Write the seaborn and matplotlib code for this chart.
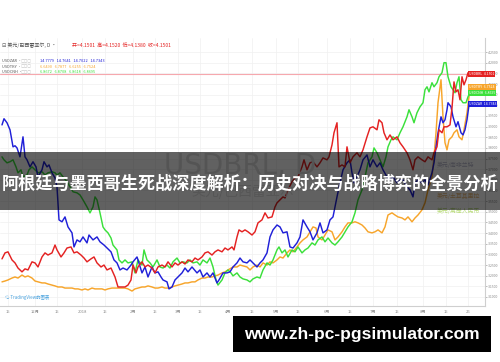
import matplotlib
matplotlib.use("Agg")
import numpy as np
import pandas as pd
import matplotlib.pyplot as plt
import seaborn as sns
from matplotlib.patches import Rectangle

# ---------------- data (session index, price in USDBRL scale) ----------------
usdbrl = [(2,3.279),(5,3.307),(8,3.312),(12,3.274),(15,3.260),(18,3.236),(22,3.218),(25,3.232),(28,3.227),(32,3.265),
          (35,3.260),(38,3.241),(42,3.288),(45,3.307),(48,3.297),(52,3.307),(55,3.344),(57,3.321),(61,3.288),(64,3.307),
          (67,3.330),(71,3.335),(74,3.307),(77,3.312),(81,3.297),(84,3.283),(87,3.265),(91,3.279),(94,3.288),(97,3.260),
          (101,3.241),(104,3.250),(107,3.227),(111,3.236),(115,3.194),(118,3.147),(122,3.147),(125,3.147),(128,3.156),(131,3.180),
          (133,3.250),(136,3.213),(138,3.241),(142,3.265),(145,3.241),(148,3.250),(152,3.236),(155,3.213),(158,3.241),(162,3.250),
          (165,3.241),(168,3.265),(172,3.241),(175,3.260),(178,3.250),(182,3.265),(185,3.255),(188,3.274),(192,3.265),(195,3.283),
          (198,3.274),(202,3.288),(205,3.307),(208,3.312),(212,3.297),(215,3.312),(218,3.321),(222,3.312),(225,3.330),(228,3.321),
          (232,3.335),(234,3.321),(237,3.382),(239,3.415),(242,3.406),(245,3.415),(248,3.406),(252,3.391),(255,3.406),(258,3.448),
          (262,3.462),(265,3.495),(268,3.471),(272,3.476),(275,3.523),(277,3.542),(280,3.556),(283,3.570),(285,3.565),(288,3.603),
          (292,3.641),(295,3.659),(298,3.664),(302,3.711),(304,3.744),(307,3.697),(310,3.730),(313,3.735),(317,3.711),(320,3.730),
          (323,3.753),(327,3.744),(329,3.758),(332,3.814),(334,3.871),(337,3.918),(339,3.711),(342,3.720),(345,3.711),(347,3.805),
          (350,3.730),(353,3.758),(357,3.777),(360,3.758),(363,3.791),(367,3.852),(370,3.894),(373,3.899),(377,3.885),(379,3.932),
          (382,3.918),(384,3.871),(387,3.838),(390,3.861),(393,3.838),(397,3.852),(400,3.824),(403,3.805),(407,3.777),(410,3.744),
          (413,3.697),(415,3.744),(418,3.758),(422,3.744),(425,3.735),(428,3.758),(432,3.744),(434,3.777),(437,3.805),(439,3.885),
          (442,3.871),(444,3.899),(447,3.899),(450,3.908),(452,3.988),(454,4.110),(456,4.063),(458,4.073),(460,4.026),(462,4.134),
          (464,4.096),(466,4.120),(468,4.153),(470,4.148)]

usdzar = [(2,3.908),(4,3.937),(7,3.918),(10,3.885),(13,3.805),(15,3.810),(17,3.800),(20,3.758),(23,3.852),(25,3.758),
          (27,3.744),(30,3.711),(33,3.735),(36,3.711),(38,3.664),(42,3.697),(44,3.735),(47,3.711),(49,3.720),(52,3.683),
          (55,3.659),(57,3.617),(59,3.462),(62,3.453),(65,3.476),(68,3.429),(72,3.401),(74,3.335),(77,3.368),(80,3.359),
          (83,3.382),(87,3.354),(89,3.391),(93,3.368),(97,3.382),(100,3.359),(104,3.344),(107,3.330),(111,3.312),(114,3.274),
          (117,3.260),(120,3.227),(123,3.236),(127,3.227),(131,3.250),(133,3.265),(137,3.288),(138,3.274),(142,3.213),(145,3.241),
          (148,3.194),(152,3.241),(155,3.213),(158,3.218),(161,3.194),(163,3.180),(167,3.171),(169,3.138),(172,3.147),(175,3.180),
          (178,3.194),(182,3.213),(185,3.236),(188,3.218),(192,3.241),(197,3.213),(200,3.227),(203,3.194),(207,3.213),(210,3.194),
          (213,3.213),(217,3.166),(219,3.180),(223,3.213),(227,3.213),(230,3.218),(233,3.241),(237,3.260),(240,3.283),(243,3.265),
          (247,3.260),(250,3.274),(253,3.260),(257,3.241),(260,3.260),(263,3.274),(267,3.307),(270,3.382),(273,3.415),(277,3.438),
          (280,3.429),(283,3.401),(287,3.406),(290,3.335),(293,3.330),(297,3.354),(300,3.382),(303,3.462),(307,3.429),(310,3.406),
          (313,3.368),(317,3.401),(320,3.448),(323,3.401),(327,3.415),(330,3.462),(333,3.476),(337,3.570),(340,3.636),(343,3.697),
          (347,3.730),(350,3.744),(352,3.683),(354,3.636),(357,3.664),(360,3.697),(363,3.744),(367,3.767),(370,3.711),(373,3.744),
          (377,3.711),(380,3.730),(383,3.697),(387,3.664),(390,3.650),(393,3.664),(397,3.636),(400,3.650),(403,3.650),(407,3.617),
          (410,3.603),(413,3.570),(415,3.636),(418,3.650),(422,3.636),(425,3.650),(428,3.626),(432,3.683),(434,3.730),(436,3.805),
          (438,3.871),(441,3.946),(443,3.918),(445,3.932),(447,3.979),(448,4.012),(451,3.993),(453,3.946),(456,3.899),(458,3.923),
          (461,3.871),(463,3.861),(465,3.885),(467,3.932),(469,4.002),(471,4.007)]

usdcnh = [(2,3.758),(4,3.744),(7,3.730),(10,3.735),(13,3.744),(16,3.711),(18,3.683),(21,3.697),(23,3.664),(27,3.673),
          (29,3.697),(32,3.711),(35,3.697),(38,3.683),(42,3.688),(45,3.673),(48,3.683),(52,3.688),(55,3.683),(57,3.673),
          (60,3.683),(63,3.664),(67,3.641),(70,3.617),(73,3.594),(77,3.589),(80,3.579),(83,3.556),(87,3.523),(90,3.495),
          (93,3.523),(95,3.570),(97,3.556),(100,3.495),(103,3.429),(105,3.415),(108,3.401),(111,3.377),(113,3.344),(117,3.321),
          (119,3.274),(122,3.260),(125,3.274),(128,3.260),(132,3.265),(135,3.213),(138,3.274),(142,3.250),(144,3.321),(147,3.274),
          (150,3.260),(153,3.241),(157,3.274),(160,3.241),(163,3.236),(167,3.250),(170,3.236),(173,3.265),(177,3.283),(180,3.260),
          (183,3.265),(187,3.260),(190,3.274),(193,3.260),(197,3.265),(200,3.250),(203,3.274),(207,3.260),(210,3.283),(213,3.241),
          (216,3.180),(218,3.156),(222,3.180),(225,3.213),(228,3.227),(231,3.213),(233,3.199),(237,3.213),(240,3.194),(243,3.185),
          (247,3.180),(250,3.171),(253,3.185),(257,3.194),(260,3.189),(263,3.227),(267,3.260),(270,3.250),(273,3.274),(277,3.321),
          (279,3.335),(282,3.307),(285,3.321),(288,3.288),(292,3.321),(295,3.312),(298,3.335),(302,3.307),(305,3.321),(308,3.330),
          (312,3.354),(315,3.344),(318,3.368),(322,3.382),(325,3.359),(328,3.377),(332,3.354),(335,3.344),(338,3.359),(342,3.382),
          (345,3.406),(348,3.429),(352,3.453),(355,3.495),(358,3.556),(362,3.603),(365,3.664),(368,3.730),(372,3.758),(374,3.800),
          (377,3.777),(380,3.744),(383,3.711),(386,3.758),(388,3.805),(391,3.838),(393,3.852),(397,3.838),(400,3.871),(403,3.899),
          (407,3.946),(409,3.979),(412,3.946),(414,3.918),(417,3.965),(420,3.993),(423,4.012),(425,4.073),(427,4.087),(429,4.063),
          (432,4.106),(434,4.087),(437,4.106),(439,4.134),(442,4.153),(444,4.200),(446,4.200),(448,4.134),(451,4.087),(453,4.073),
          (455,4.059),(457,4.106),(459,4.134),(461,4.026),(463,4.012),(466,4.012),(468,4.040),(470,4.059)]

usdtry = [(2,3.171),(5,3.175),(8,3.180),(12,3.189),(15,3.194),(18,3.189),(22,3.203),(25,3.194),(28,3.199),(32,3.189),
          (35,3.175),(38,3.171),(42,3.166),(45,3.166),(48,3.161),(52,3.156),(55,3.152),(58,3.147),(62,3.147),(65,3.142),
          (68,3.142),(72,3.142),(75,3.138),(78,3.138),(82,3.133),(85,3.138),(88,3.133),(92,3.142),(95,3.138),(98,3.138),
          (102,3.138),(105,3.133),(108,3.138),(112,3.142),(115,3.142),(118,3.142),(122,3.142),(125,3.142),(128,3.138),(132,3.128),
          (135,3.138),(138,3.142),(142,3.147),(145,3.147),(148,3.152),(152,3.147),(155,3.142),(158,3.142),(162,3.147),(165,3.142),
          (168,3.142),(172,3.147),(175,3.152),(178,3.156),(182,3.161),(185,3.166),(188,3.166),(192,3.171),(195,3.171),(198,3.180),
          (202,3.189),(205,3.189),(208,3.194),(212,3.194),(215,3.199),(218,3.203),(222,3.213),(225,3.218),(228,3.227),(233,3.241),
          (237,3.241),(240,3.250),(243,3.246),(247,3.241),(250,3.227),(253,3.241),(257,3.250),(260,3.241),(263,3.260),(267,3.250),
          (270,3.265),(273,3.260),(277,3.274),(280,3.288),(283,3.283),(287,3.307),(290,3.321),(293,3.312),(297,3.335),(300,3.354),
          (303,3.368),(307,3.382),(310,3.406),(313,3.429),(316,3.424),(318,3.382),(322,3.368),(325,3.391),(328,3.415),(332,3.406),
          (335,3.368),(338,3.382),(342,3.406),(345,3.429),(348,3.448),(352,3.448),(355,3.453),(358,3.448),(362,3.438),(365,3.424),
          (368,3.406),(372,3.401),(375,3.406),(378,3.415),(382,3.401),(385,3.429),(388,3.485),(392,3.495),(395,3.485),(398,3.476),
          (402,3.471),(405,3.462),(408,3.476),(412,3.453),(415,3.471),(418,3.485),(422,3.509),(425,3.542),(428,3.603),(432,3.664),
          (434,3.758),(436,3.871),(438,4.012),(441,4.120),(443,3.946),(445,3.824),(447,3.791),(449,3.838),(452,3.852),(454,3.871),
          (457,3.885),(459,3.852),(462,3.838),(464,3.885),(467,3.965),(469,4.040),(470,4.087)]

series_names = ["USDTRY", "USDCNH", "USDZAR", "USDBRL"]
series_colors = ["#f7a52b", "#3be03b", "#2020d8", "#e42222"]
last_prices = ["6.7524", "6.8695", "14.7343", "4.1501"]

legend_rows = [("USDZAR", ["14.7779", "14.7641", "14.7022", "14.7343"]),
               ("USDTRY", ["6.6490", "6.7877", "6.6255", "6.7524"]),
               ("USDCNH", ["6.8672", "6.8708", "6.8618", "6.8695"])]

xtick_pos = [8, 35, 57, 82, 105, 133, 155, 178, 200, 228, 252, 276, 298, 327, 350, 373, 397, 423, 446, 468]
xtick_lab = ["15", "12月", "15", "2018", "15", "2月", "15", "3月", "15", "4月",
             "15", "5月", "15", "6月", "15", "7月", "15", "8月", "15", "26"]
ytick_vals = np.round(np.arange(3.10, 4.2501, 0.05), 2)

title_text = "阿根廷与墨西哥生死战深度解析：历史对决与战略博弈的全景分析"
url_text = "www.zh-pc-pgsimulator.com"

# ---------------- build frame ----------------
frames = []
for name, pts in zip(["USDBRL", "USDZAR", "USDCNH", "USDTRY"], [usdbrl, usdzar, usdcnh, usdtry]):
    d = pd.DataFrame(pts, columns=["t", "price"])
    d["series"] = name
    frames.append(d)
df = pd.concat(frames, ignore_index=True)

sns.set_theme(style="white")
plt.rcParams['font.family'] = ['Noto Sans CJK SC', 'DejaVu Sans']

W, H = 500, 362
fig = plt.figure(figsize=(5, 3.62), dpi=100)
ax = fig.add_axes([0.0, 56 / H, 485 / W, 268 / H])

sns.lineplot(data=df, x="t", y="price", hue="series", hue_order=series_names,
             palette=series_colors, estimator=None, sort=False, lw=1.05,
             legend=False, ax=ax)

ax.set_xlim(0, 485)
ax.set_ylim(3.0577, 4.316)
ax.axhline(float(df[df.series == "USDBRL"].price.iloc[-1]), xmax=470 / 485,
           color="#f6a8ae", lw=0.8, zorder=1)

ax.set_xticks(xtick_pos)
ax.set_xticklabels(xtick_lab)
ax.set_yticks(ytick_vals)
ax.set_yticklabels([f"{v:.4f}" for v in ytick_vals])
ax.yaxis.tick_right()
ax.tick_params(axis="x", labelsize=3.0, colors="#8a8a8a", length=1.5, width=0.4, pad=1.5)
ax.tick_params(axis="y", labelsize=2.5, colors="#8a8a8a", length=1.2, width=0.4, pad=0.8)
ax.set_xlabel("")
ax.set_ylabel("")
ax.grid(True, color="#f0f0f0", lw=0.5)
ax.set_axisbelow(True)
for s in ["left", "top"]:
    ax.spines[s].set_visible(False)
for s in ["right", "bottom"]:
    ax.spines[s].set_color("#cfcfcf")
    ax.spines[s].set_linewidth(0.8)

# right-side price labels
ytr = ax.get_yaxis_transform()
for name, col, lp in zip(series_names, series_colors, last_prices):
    yv = float(df[df.series == name].price.iloc[-1])
    ax.text(469 / 485, yv, f"{name}  {lp}", transform=ytr, fontsize=2.5, color="white",
            va="center", ha="left", clip_on=False, zorder=6,
            bbox=dict(boxstyle="square,pad=0.3", fc=col, ec="none"))

# watermarks
fig.text(240 / W, 1 - 166 / H, "USDBRL, D", fontsize=20, color="#dedede", ha="center", va="center",
         family="DejaVu Sans", zorder=1)
fig.text(243 / W, 1 - 192 / H, "美元/巴西雷亚尔", fontsize=10, color="#e2e2e2", ha="center", va="center", zorder=1)
fig.text(437 / W, 1 - 165 / H, "美元/南非兰特", fontsize=4.2, color="#b8b8cc", ha="left", va="center", zorder=1)
fig.text(437 / W, 1 - 196 / H, "美元/土耳其里拉", fontsize=4.2, color="#e8b878", ha="left", va="center", zorder=1)
fig.text(437 / W, 1 - 211 / H, "美元/离岸人民币", fontsize=4.2, color="#b8dc78", ha="left", va="center", zorder=1)

# top-left legend
fig.text(2 / W, 1 - 45 / H, "⊟ 美元/巴西雷亚尔, D ·", fontsize=3.6, color="#555555", ha="left", va="center")
fig.text(72 / W, 1 - 45 / H, "开=4.1501  高=4.1520  低=4.1380  收=4.1501", fontsize=3.6, color="#e42222",
         ha="left", va="center")
for i, (nm, vals) in enumerate(legend_rows):
    yy = 1 - (61 + 5.5 * i) / H
    fig.text(2 / W, yy, f"{nm} ·", fontsize=2.8, color="#555555", ha="left", va="center")
    fig.text(21 / W, yy, "▢▢▢", fontsize=2.8, color="#bbbbbb", ha="left", va="center", family="DejaVu Sans")
    fig.text(40 / W, yy, "   ".join(vals), fontsize=2.8, color=series_colors[["USDTRY", "USDCNH", "USDZAR"].index(nm)],
             ha="left", va="center")

fig.text(5 / W, 1 - 298 / H, "☁ TradingView的图表", fontsize=3.2, color="#4aa3df", ha="left", va="center")

# overlay band + title
fig.add_artist(Rectangle((0, 1 - 210 / H), 1, 58 / H, transform=fig.transFigure,
                         fc="black", ec="none", alpha=0.62, zorder=10))
fig.text(0.5, 1 - 184 / H, title_text, fontsize=12.3, fontweight="bold", color="white",
         ha="center", va="center", zorder=11)

# bottom url box
fig.add_artist(Rectangle((233 / W, 10 / H), 258 / W, 36 / H, transform=fig.transFigure,
                         fc="black", ec="none", zorder=10))
fig.text(362 / W, 1 - 334 / H, url_text, fontsize=12.5, fontweight="bold", color="white",
         family="Liberation Sans", ha="center", va="center", zorder=11)

fig.savefig("out.png", dpi=100)
